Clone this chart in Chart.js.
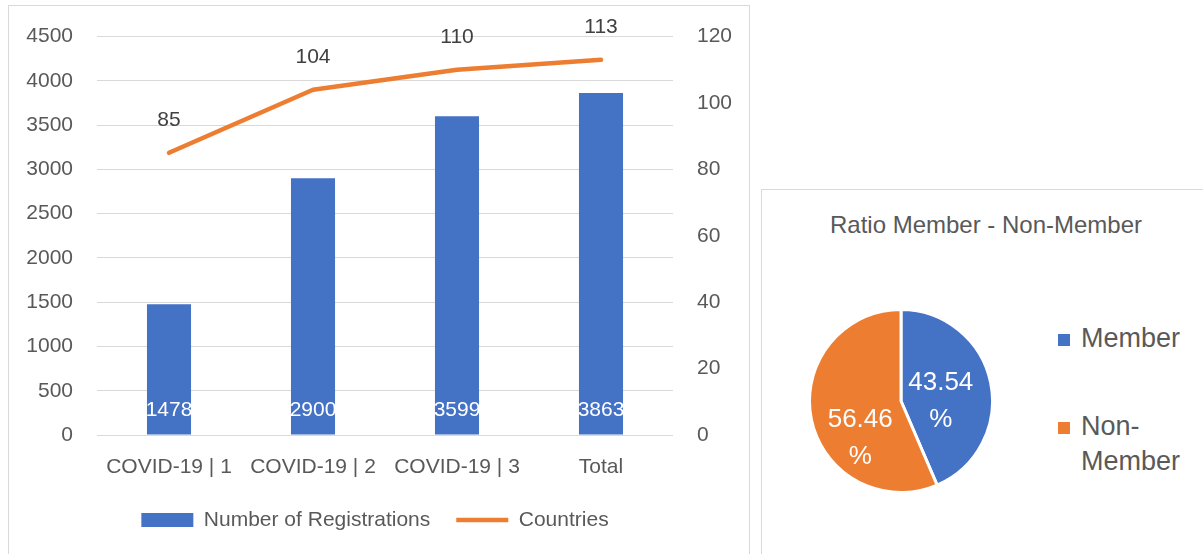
<!DOCTYPE html>
<html>
<head>
<meta charset="utf-8">
<script src="https://cdn.jsdelivr.net/npm/chart.js@4/dist/chart.umd.min.js"></script>
<style>
  html, body { margin:0; padding:0; background:#fff; overflow:hidden; width:1203px; height:554px; }
  #leftBox { position:absolute; left:8px; top:5px; width:742px; height:600px; border:1px solid #d9d9d9; box-sizing:border-box; }
  #pieBox { position:absolute; left:761px; top:189px; width:520px; height:420px; border:1px solid #d9d9d9; box-sizing:border-box; }
  #barWrap { position:absolute; left:0; top:0; width:750px; height:554px; }
  #pieWrap { position:absolute; left:808px; top:308px; width:186px; height:186px; }
  .txt { position:absolute; font-family:"Liberation Sans", Arial, sans-serif; color:#595959; white-space:nowrap; }
  #pieTitle { left:786px; top:210px; width:400px; text-align:center; font-size:24px; line-height:30px; }
  .sw { position:absolute; width:12px; height:12px; }
  .leg { font-size:27px; line-height:35px; }
</style>
</head>
<body>
<div id="leftBox"></div>
<div id="pieBox"></div>
<div id="barWrap"><canvas id="barChart"></canvas></div>
<div id="pieWrap"><canvas id="pieChart"></canvas></div>
<div class="txt" id="pieTitle">Ratio Member - Non-Member</div>
<div class="sw" style="left:1058px;top:334px;background:#4472C4"></div>
<div class="txt leg" style="left:1081px;top:321px;">Member</div>
<div class="sw" style="left:1058px;top:422px;background:#ED7D31"></div>
<div class="txt leg" style="left:1081px;top:409px;">Non-<br>Member</div>
<script>
// ---- data ----
const categories = ['COVID-19 | 1', 'COVID-19 | 2', 'COVID-19 | 3', 'Total'];
const registrations = [1478, 2900, 3599, 3863];
const countries = [85, 104, 110, 113];
const leftAxisMax = 4500;
const leftAxisStep = 500;
const rightAxisMax = 120;
const rightAxisStep = 20;
const pieLabels = ['Member', 'Non-Member'];
const pieValues = [43.54, 56.46];

const BLUE = '#4472C4';
const ORANGE = '#ED7D31';
const FONT = '"Liberation Sans", Arial, sans-serif';

const valueLabels = {
  id: 'valueLabels',
  afterDatasetsDraw(chart) {
    const ctx = chart.ctx;
    ctx.save();
    ctx.font = '21px ' + FONT;
    ctx.textAlign = 'center';
    ctx.textBaseline = 'middle';
    chart.getDatasetMeta(0).data.forEach((el, i) => {
      ctx.fillStyle = '#ffffff';
      ctx.fillText(String(registrations[i]), el.x, el.base - 24);
    });
    chart.getDatasetMeta(1).data.forEach((el, i) => {
      ctx.fillStyle = '#404040';
      ctx.fillText(String(countries[i]), el.x, el.y - 33);
    });
    ctx.restore();
  }
};

const plainTick = v => String(v);

new Chart(document.getElementById('barChart'), {
  data: {
    labels: categories,
    datasets: [
      {
        type: 'bar',
        label: 'Number of Registrations',
        data: registrations,
        backgroundColor: BLUE,
        borderWidth: 0,
        yAxisID: 'y',
        categoryPercentage: 1,
        barPercentage: 0.306,
        pointStyle: 'rect'
      },
      {
        type: 'line',
        label: 'Countries',
        data: countries,
        borderColor: ORANGE,
        backgroundColor: ORANGE,
        borderWidth: 4.5,
        pointRadius: 0,
        pointHoverRadius: 0,
        pointStyle: 'line',
        borderJoinStyle: 'round',
        borderCapStyle: 'round',
        tension: 0,
        yAxisID: 'y1'
      }
    ]
  },
  options: {
    responsive: true,
    maintainAspectRatio: false,
    animation: false,
    layout: { padding: { top: 33, bottom: 13.5, left: 0, right: 0 } },
    plugins: {
      tooltip: { enabled: false },
      legend: {
        position: 'bottom',
        labels: {
          usePointStyle: true,
          pointStyleWidth: 52,
          boxHeight: 14,
          padding: 26,
          color: '#595959',
          font: { family: FONT, size: 21 },
          sort: (a, b) => a.datasetIndex - b.datasetIndex
        }
      }
    },
    scales: {
      x: {
        grid: { display: false },
        border: { display: false },
        ticks: { color: '#595959', font: { family: FONT, size: 21 }, padding: 11.5, maxRotation: 0, autoSkip: false },
        afterFit(s) { s.height = 48.5; }
      },
      y: {
        position: 'left',
        min: 0,
        max: leftAxisMax,
        ticks: { stepSize: leftAxisStep, color: '#595959', font: { family: FONT, size: 21 }, padding: 24, callback: plainTick },
        grid: { color: '#d9d9d9', lineWidth: 1, drawTicks: false },
        border: { display: false },
        afterFit(s) { s.width = 97; }
      },
      y1: {
        position: 'right',
        min: 0,
        max: rightAxisMax,
        ticks: { stepSize: rightAxisStep, color: '#595959', font: { family: FONT, size: 21 }, padding: 24, callback: plainTick },
        grid: { display: false, drawTicks: false },
        border: { display: false },
        afterFit(s) { s.width = 77; }
      }
    }
  },
  plugins: [valueLabels]
});

const pieValueLabels = {
  id: 'pieValueLabels',
  afterDatasetsDraw(chart, args, opts) {
    const ctx = chart.ctx;
    ctx.save();
    ctx.font = '26px ' + FONT;
    ctx.fillStyle = '#ffffff';
    ctx.textAlign = 'center';
    ctx.textBaseline = 'middle';
    chart.getDatasetMeta(0).data.forEach((arc, i) => {
      const p = arc.getProps(['startAngle', 'endAngle', 'outerRadius', 'x', 'y'], true);
      const a = p.startAngle + (p.endAngle - p.startAngle) * opts.angleFrac[i];
      const r = p.outerRadius * opts.radiusFrac[i];
      const cx = p.x + Math.cos(a) * r;
      const cy = p.y + Math.sin(a) * r;
      ctx.fillText(pieValues[i].toFixed(2), cx, cy - 18.5);
      ctx.fillText('%', cx, cy + 18.5);
    });
    ctx.restore();
  }
};

new Chart(document.getElementById('pieChart'), {
  type: 'pie',
  data: {
    labels: pieLabels,
    datasets: [{
      data: pieValues,
      backgroundColor: [BLUE, ORANGE],
      borderColor: '#ffffff',
      borderWidth: 3
    }]
  },
  options: {
    responsive: true,
    maintainAspectRatio: false,
    animation: false,
    layout: { padding: 0 },
    plugins: {
      legend: { display: false },
      tooltip: { enabled: false },
      pieValueLabels: { angleFrac: [0.579, 0.348], radiusFrac: [0.435, 0.605] }
    }
  },
  plugins: [pieValueLabels]
});
</script>
</body>
</html>
